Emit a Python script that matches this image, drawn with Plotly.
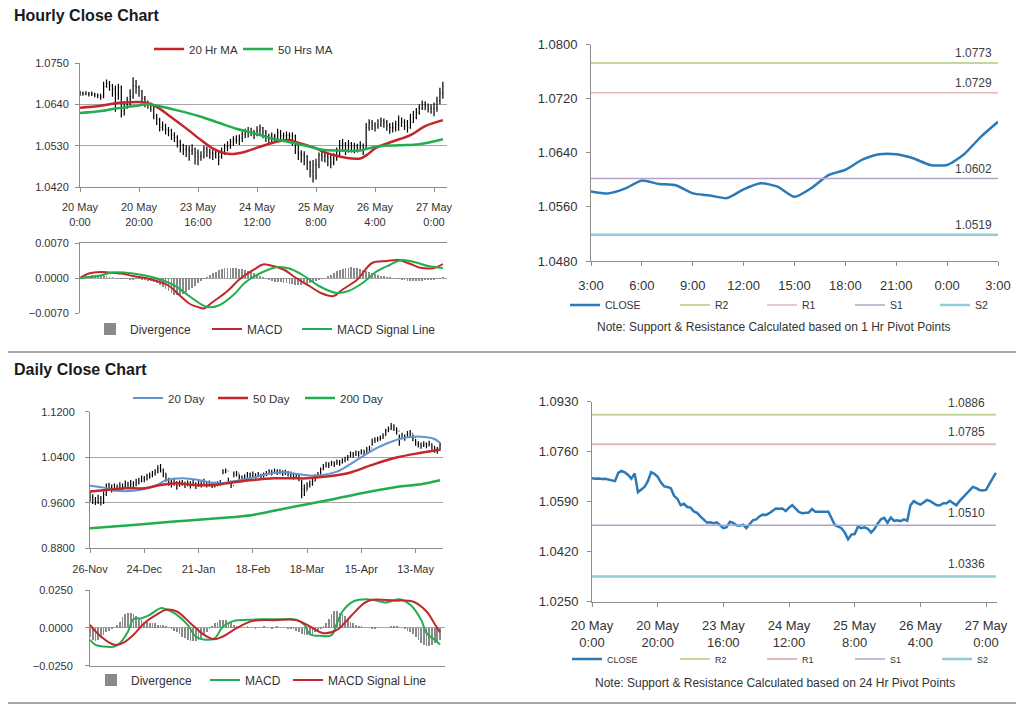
import plotly.graph_objects as go

# The page body keeps its default 8px margin, so the figure is sized to fill the
# remaining 1016x698 and all pixel positions below are given in window coordinates.
PAGE_MARGIN = 8
W, H = 1024 - PAGE_MARGIN, 706 - PAGE_MARGIN
FONT = "Liberation Sans, Arial, Helvetica, sans-serif"
TXT = "#333333"
AXC = "#8c8c8c"
GRID = "#a6a6a6"
RED = "#c3272b"
GREEN = "#22ad4f"
BLUE20 = "#6492cf"
CLOSE_C = "#2a7ab9"
DIV_C = "#8a8a8a"
R2_C, R1_C, S1_C, S2_C = "#c4d79b", "#e6b9b8", "#b3a2c7", "#93cddd"

# ---------------- Hourly data (20 May 0:00 -> 27 May 3:00) ----------------
hourly_close = [
    1.0670, 1.0668, 1.0669, 1.0667, 1.0668, 1.0665, 1.0663, 1.0660, 1.0688, 1.0695,
    1.0690, 1.0681, 1.0668, 1.0686, 1.0622, 1.0630, 1.0640, 1.0660, 1.0690, 1.0685,
    1.0675, 1.0655, 1.0642, 1.0640, 1.0636, 1.0610, 1.0600, 1.0578, 1.0583, 1.0572,
    1.0570, 1.0557, 1.0552, 1.0540, 1.0530, 1.0519, 1.0520, 1.0517, 1.0520, 1.0510,
    1.0500, 1.0503, 1.0522, 1.0518, 1.0510, 1.0508, 1.0512, 1.0500, 1.0512, 1.0527,
    1.0530, 1.0540, 1.0546, 1.0545, 1.0551, 1.0560, 1.0567, 1.0566, 1.0567, 1.0558,
    1.0570, 1.0578, 1.0566, 1.0555, 1.0551, 1.0553, 1.0553, 1.0565, 1.0556, 1.0556,
    1.0557, 1.0556, 1.0556, 1.0530, 1.0510, 1.0505, 1.0500, 1.0485, 1.0462, 1.0478,
    1.0480, 1.0505, 1.0500, 1.0503, 1.0498, 1.0485, 1.0497, 1.0515, 1.0530, 1.0535,
    1.0518, 1.0536, 1.0525, 1.0527, 1.0524, 1.0530, 1.0525, 1.0578, 1.0592, 1.0585,
    1.0580, 1.0587, 1.0596, 1.0592, 1.0584, 1.0578, 1.0578, 1.0585, 1.0585, 1.0593,
    1.0585, 1.0578, 1.0593, 1.0605, 1.0618, 1.0630, 1.0640, 1.0636, 1.0630, 1.0628,
    1.0630, 1.0650, 1.0670, 1.0688]
hourly_high = [
    1.0676, 1.0674, 1.0675, 1.0673, 1.0674, 1.0671, 1.0669, 1.0668, 1.0700, 1.0706,
    1.0702, 1.0694, 1.0690, 1.0695, 1.0690, 1.0648, 1.0660, 1.0680, 1.0712, 1.0705,
    1.0690, 1.0678, 1.0662, 1.0650, 1.0645, 1.0640, 1.0615, 1.0604, 1.0594, 1.0588,
    1.0580, 1.0575, 1.0566, 1.0558, 1.0546, 1.0535, 1.0532, 1.0530, 1.0534, 1.0525,
    1.0520, 1.0515, 1.0530, 1.0528, 1.0522, 1.0520, 1.0520, 1.0515, 1.0525, 1.0535,
    1.0542, 1.0548, 1.0555, 1.0558, 1.0560, 1.0568, 1.0575, 1.0580, 1.0578, 1.0572,
    1.0582, 1.0586, 1.0580, 1.0572, 1.0562, 1.0565, 1.0562, 1.0575, 1.0572, 1.0565,
    1.0568, 1.0565, 1.0566, 1.0560, 1.0535, 1.0518, 1.0515, 1.0505, 1.0490, 1.0492,
    1.0495, 1.0512, 1.0518, 1.0520, 1.0510, 1.0508, 1.0510, 1.0525, 1.0545, 1.0548,
    1.0540, 1.0545, 1.0540, 1.0538, 1.0535, 1.0542, 1.0536, 1.0590, 1.0600, 1.0598,
    1.0592, 1.0600, 1.0605, 1.0602, 1.0598, 1.0590, 1.0592, 1.0596, 1.0610, 1.0605,
    1.0600, 1.0598, 1.0615, 1.0622, 1.0630, 1.0640, 1.0650, 1.0648, 1.0642, 1.0640,
    1.0645, 1.0660, 1.0684, 1.0700]
hourly_low = [
    1.0662, 1.0663, 1.0664, 1.0661, 1.0662, 1.0659, 1.0656, 1.0652, 1.0656, 1.0684,
    1.0676, 1.0660, 1.0620, 1.0652, 1.0605, 1.0610, 1.0628, 1.0636, 1.0655, 1.0668,
    1.0660, 1.0645, 1.0632, 1.0628, 1.0620, 1.0600, 1.0585, 1.0568, 1.0570, 1.0560,
    1.0555, 1.0545, 1.0540, 1.0525, 1.0512, 1.0505, 1.0500, 1.0490, 1.0505, 1.0480,
    1.0478, 1.0490, 1.0496, 1.0500, 1.0495, 1.0492, 1.0496, 1.0478, 1.0495, 1.0505,
    1.0515, 1.0522, 1.0530, 1.0535, 1.0532, 1.0540, 1.0550, 1.0552, 1.0555, 1.0548,
    1.0555, 1.0560, 1.0550, 1.0540, 1.0535, 1.0540, 1.0538, 1.0545, 1.0540, 1.0540,
    1.0545, 1.0538, 1.0530, 1.0508, 1.0492, 1.0485, 1.0478, 1.0465, 1.0445, 1.0432,
    1.0440, 1.0470, 1.0488, 1.0485, 1.0475, 1.0470, 1.0478, 1.0490, 1.0500, 1.0515,
    1.0505, 1.0512, 1.0512, 1.0510, 1.0512, 1.0515, 1.0505, 1.0520, 1.0570, 1.0572,
    1.0568, 1.0575, 1.0580, 1.0578, 1.0570, 1.0562, 1.0565, 1.0568, 1.0570, 1.0580,
    1.0572, 1.0565, 1.0575, 1.0590, 1.0600, 1.0612, 1.0625, 1.0624, 1.0618, 1.0615,
    1.0608, 1.0620, 1.0640, 1.0655]
hourly_tick_pos = [0, 20, 40, 60, 80, 100, 120]
hourly_tick_text = ["20 May<br>0:00", "20 May<br>20:00", "23 May<br>16:00", "24 May<br>12:00",
                    "25 May<br>8:00", "26 May<br>4:00", "27 May<br>0:00"]

ma20h_idx = [0, 7, 12, 16, 20, 23, 26, 30, 36, 41, 45, 49, 52, 56, 61, 67, 71, 74, 79, 83,
             88, 92, 95, 98, 100, 106, 112, 117, 123]
ma20h = [1.0631, 1.0636, 1.0643, 1.0645, 1.0646, 1.0643, 1.0633, 1.0611, 1.0576, 1.0545,
         1.0523, 1.0510, 1.0508, 1.0514, 1.0527, 1.0541, 1.0545, 1.0538, 1.0526, 1.0512,
         1.0501, 1.0496, 1.0496, 1.0510, 1.0523, 1.0541, 1.0558, 1.0582, 1.0598]
ma50h_idx = [0, 7, 12, 18, 23, 27, 33, 41, 47, 53, 59, 65, 72, 78, 82, 88, 95, 100, 108, 115, 123]
ma50h = [1.0617, 1.0622, 1.0629, 1.0635, 1.0640, 1.0635, 1.0624, 1.0607, 1.0591, 1.0575,
         1.0563, 1.0549, 1.0538, 1.0527, 1.0519, 1.0517, 1.0517, 1.0527, 1.0531, 1.0534, 1.0547]

macd_h_idx = [0, 3, 7, 10, 14, 18, 23, 27, 30, 34, 37, 41, 42, 45, 50, 54, 59, 62, 64, 69,
              73, 78, 82, 86, 89, 94, 99, 104, 108, 112, 115, 120, 123]
macd_h = [0.0000, 0.0009, 0.0012, 0.0011, 0.0009, 0.0004, -0.0001, -0.0008, -0.0015, -0.0036,
          -0.0051, -0.0060, -0.0061, -0.0048, -0.0026, -0.0003, 0.0017, 0.0027, 0.0026, 0.0017,
          0.0001, -0.0017, -0.0031, -0.0036, -0.0023, -0.0003, 0.0030, 0.0034, 0.0036, 0.0028,
          0.0021, 0.0020, 0.0028]
signal_h_idx = [0, 7, 11, 18, 25, 32, 37, 43, 47, 52, 56, 62, 67, 71, 76, 81, 87, 91, 96, 100,
                105, 109, 114, 118, 123]
signal_h = [0.0000, 0.0005, 0.0011, 0.0009, 0.0001, -0.0015, -0.0036, -0.0058, -0.0055, -0.0034,
            -0.0009, 0.0012, 0.0022, 0.0019, 0.0004, -0.0016, -0.0030, -0.0026, -0.0009, 0.0011,
            0.0026, 0.0036, 0.0031, 0.0024, 0.0020]
hourly_div = [
    0.0001, 0.0003, 0.0004, 0.0005, 0.0006, 0.0006, 0.0005, 0.0005, 0.0004, 0.0003,
    0.0002, 0.0001, 0.0000, -0.0001, -0.0001, -0.0002, -0.0002, -0.0003, -0.0003, -0.0002,
    -0.0002, -0.0003, -0.0004, -0.0005, -0.0006, -0.0008, -0.0010, -0.0014, -0.0018, -0.0022,
    -0.0026, -0.0030, -0.0033, -0.0034, -0.0033, -0.0031, -0.0028, -0.0024, -0.0020, -0.0015,
    -0.0010, -0.0006, -0.0002, 0.0002, 0.0006, 0.0010, 0.0013, 0.0016, 0.0018, 0.0020,
    0.0021, 0.0021, 0.0020, 0.0020, 0.0019, 0.0018, 0.0016, 0.0014, 0.0012, 0.0010,
    0.0007, 0.0004, 0.0001, -0.0002, -0.0004, -0.0006, -0.0007, -0.0008, -0.0008, -0.0009,
    -0.0010, -0.0011, -0.0012, -0.0013, -0.0013, -0.0013, -0.0012, -0.0011, -0.0010, -0.0008,
    -0.0006, -0.0004, -0.0002, 0.0000, 0.0003, 0.0006, 0.0010, 0.0014, 0.0017, 0.0019,
    0.0021, 0.0021, 0.0022, 0.0021, 0.0020, 0.0018, 0.0016, 0.0014, 0.0012, 0.0010,
    0.0008, 0.0006, 0.0004, 0.0003, 0.0002, 0.0001, 0.0000, -0.0001, -0.0002, -0.0003,
    -0.0004, -0.0005, -0.0006, -0.0006, -0.0006, -0.0005, -0.0005, -0.0004, -0.0004, -0.0003,
    -0.0003, -0.0002, -0.0001, 0.0001]

# ---------------- 1 Hr pivot chart (26 May 3:00 -> 27 May 3:00) ----------------
pivot1h_hours = ["3:00", "4:00", "5:00", "6:00", "7:00", "8:00", "9:00", "10:00", "11:00",
                 "12:00", "13:00", "14:00", "15:00", "16:00", "17:00", "18:00", "19:00",
                 "20:00", "21:00", "22:00", "23:00", "0:00", "1:00", "2:00", "3:00"]
pivot1h_close = [1.0583, 1.0580, 1.0587, 1.0599, 1.0594, 1.0592, 1.0580, 1.0577, 1.0573,
                 1.0586, 1.0595, 1.0590, 1.0575, 1.0588, 1.0607, 1.0615, 1.0630, 1.0638,
                 1.0638, 1.0632, 1.0622, 1.0622, 1.0638, 1.0664, 1.0686]
pivot1h_levels = {"R2": 1.0773, "R1": 1.0729, "S1": 1.0602, "S2": 1.0519}

# ---------------- 24 Hr pivot levels ----------------
pivot24h_levels = {"R2": 1.0886, "R1": 1.0785, "S1": 1.0510, "S2": 1.0336}

# ---------------- Daily data (26-Nov -> 27-May) ----------------
daily_close = [
    0.970, 0.965, 0.962, 0.968, 0.960, 0.975, 0.990, 0.987, 0.984, 0.988,
    0.985, 0.990, 0.988, 0.993, 0.990, 0.994, 0.991, 0.996, 0.999, 1.003,
    1.001, 1.006, 1.008, 1.011, 1.014, 1.020, 1.018, 1.012, 1.002, 0.996,
    0.993, 0.997, 0.990, 0.994, 0.995, 0.991, 0.994, 0.992, 0.995, 0.990,
    0.994, 0.993, 0.997, 0.992, 0.994, 0.990, 0.992, 0.993, 0.995, 1.014,
    1.016, 0.998, 0.990, 1.010, 1.012, 1.006, 1.003, 1.005, 1.010, 1.008,
    1.011, 1.007, 1.010, 1.006, 1.009, 1.012, 1.015, 1.013, 1.016, 1.014,
    1.015, 1.012, 1.014, 1.011, 1.010, 1.006, 1.008, 1.004, 0.985, 0.980,
    0.990, 0.993, 0.998, 1.006, 1.010, 1.018, 1.024, 1.028, 1.026, 1.030,
    1.028, 1.032, 1.030, 1.034, 1.036, 1.040, 1.046, 1.044, 1.048, 1.046,
    1.050, 1.048, 1.053, 1.056, 1.068, 1.070, 1.072, 1.074, 1.078, 1.086,
    1.090, 1.094, 1.092, 1.086, 1.072, 1.078, 1.075, 1.080, 1.082, 1.074,
    1.065, 1.062, 1.060, 1.063, 1.061, 1.064, 1.058, 1.055, 1.052, 1.062]
daily_high = [
    0.980, 0.975, 0.970, 0.974, 0.972, 0.980, 0.994, 0.995, 0.992, 0.994,
    0.992, 0.996, 0.994, 0.999, 0.997, 1.000, 0.998, 1.002, 1.004, 1.008,
    1.007, 1.011, 1.013, 1.016, 1.019, 1.026, 1.028, 1.020, 1.012, 1.004,
    1.000, 1.002, 0.998, 0.999, 1.000, 0.997, 0.999, 0.998, 1.000, 0.996,
    0.999, 0.998, 1.002, 0.998, 0.999, 0.996, 0.997, 0.998, 1.000, 1.019,
    1.020, 1.004, 0.996, 1.015, 1.016, 1.010, 1.008, 1.010, 1.014, 1.013,
    1.015, 1.012, 1.014, 1.011, 1.013, 1.016, 1.019, 1.018, 1.020, 1.019,
    1.019, 1.017, 1.018, 1.016, 1.015, 1.011, 1.012, 1.010, 1.000, 0.992,
    0.996, 0.999, 1.003, 1.010, 1.014, 1.022, 1.028, 1.032, 1.031, 1.034,
    1.033, 1.036, 1.035, 1.038, 1.041, 1.044, 1.050, 1.049, 1.052, 1.051,
    1.054, 1.053, 1.058, 1.060, 1.073, 1.075, 1.076, 1.078, 1.082, 1.090,
    1.094, 1.100, 1.098, 1.092, 1.080, 1.083, 1.080, 1.086, 1.088, 1.080,
    1.072, 1.068, 1.066, 1.068, 1.066, 1.069, 1.064, 1.060, 1.058, 1.066]
daily_low = [
    0.962, 0.958, 0.956, 0.958, 0.955, 0.958, 0.972, 0.982, 0.978, 0.980,
    0.980, 0.983, 0.982, 0.986, 0.985, 0.987, 0.986, 0.989, 0.992, 0.996,
    0.996, 0.999, 1.002, 1.005, 1.008, 1.012, 1.013, 1.005, 0.997, 0.990,
    0.987, 0.990, 0.983, 0.988, 0.990, 0.986, 0.989, 0.985, 0.990, 0.984,
    0.988, 0.987, 0.991, 0.987, 0.989, 0.986, 0.987, 0.989, 0.990, 1.010,
    1.012, 0.993, 0.986, 1.005, 1.006, 1.001, 0.998, 1.000, 1.004, 1.003,
    1.005, 1.002, 1.005, 1.001, 1.004, 1.007, 1.010, 1.008, 1.011, 1.009,
    1.010, 1.007, 1.009, 1.006, 1.005, 1.001, 1.003, 0.998, 0.968, 0.972,
    0.982, 0.987, 0.990, 0.998, 1.004, 1.010, 1.017, 1.022, 1.021, 1.025,
    1.023, 1.027, 1.025, 1.029, 1.031, 1.034, 1.040, 1.039, 1.042, 1.041,
    1.045, 1.043, 1.047, 1.050, 1.060, 1.065, 1.067, 1.069, 1.072, 1.078,
    1.084, 1.088, 1.086, 1.080, 1.060, 1.072, 1.069, 1.074, 1.076, 1.068,
    1.060, 1.057, 1.055, 1.058, 1.056, 1.059, 1.053, 1.048, 1.046, 1.052]
daily_tick_pos = [0, 20, 40, 60, 80, 100, 120]
daily_tick_text = ["26-Nov", "24-Dec", "21-Jan", "18-Feb", "18-Mar", "15-Apr", "13-May"]

ma20d_idx = [0, 5, 10, 16, 20, 25, 28, 34, 40, 44, 48, 53, 59, 65, 71, 77, 81, 86, 91, 96,
             101, 106, 111, 114, 119, 124, 127, 129]
ma20d = [0.990, 0.9866, 0.981, 0.981, 0.984, 0.992, 0.9995, 1.003, 1.000, 0.996,
         0.994, 0.998, 1.003, 1.010, 1.0135, 1.010, 1.0077, 1.009, 1.0147, 1.028,
         1.043, 1.057, 1.067, 1.072, 1.076, 1.0752, 1.072, 1.065]
ma50d_idx = [0, 6, 13, 20, 26, 32, 38, 46, 53, 60, 68, 75, 80, 87, 95, 104, 113, 121, 129]
ma50d = [0.9796, 0.9825, 0.9855, 0.9855, 0.9913, 0.9942, 0.9913, 0.9913, 0.996, 1.000,
         1.003, 1.003, 1.003, 1.006, 1.012, 1.0266, 1.0394, 1.047, 1.053]
ma200d_idx = [0, 16, 31, 47, 60, 71, 80, 90, 102, 114, 122, 129]
ma200d = [0.9153, 0.9211, 0.927, 0.9328, 0.9387, 0.9492, 0.9574, 0.9667, 0.9784, 0.9884,
          0.9925, 0.9995]

macd_d_idx = [0, 2, 5, 9, 11, 14, 16, 19, 22, 26, 28, 32, 36, 39, 43, 46, 49, 53, 58, 63,
              70, 76, 79, 81, 85, 89, 91, 93, 97, 102, 107, 109, 114, 118, 122, 124, 127, 129]
macd_d = [-0.0079, -0.0112, -0.0123, -0.0123, -0.0101, -0.0024, 0.0057, 0.0064, 0.0086, 0.0130,
          0.0123, 0.0086, 0.0020, -0.0057, -0.0079, -0.0068, 0.0009, 0.0046, 0.0053, 0.0057,
          0.0057, 0.0053, 0.0020, -0.0042, -0.0053, -0.0048, 0.0031, 0.0108, 0.0174, 0.0189,
          0.0174, 0.0167, 0.0189, 0.0152, 0.0053, -0.0035, -0.0079, -0.0110]
signal_d_idx = [0, 4, 9, 12, 16, 20, 25, 28, 32, 37, 42, 46, 49, 54, 60, 68, 76, 81, 86, 91,
                96, 101, 104, 112, 119, 124, 127, 129]
signal_d = [0.0020, -0.0057, -0.0112, -0.0101, -0.0046, 0.0031, 0.0092, 0.0119, 0.0108, 0.0031,
            -0.0046, -0.0075, -0.0057, -0.0002, 0.0046, 0.0051, 0.0051, 0.0009, -0.0035, -0.0013,
            0.0075, 0.0163, 0.0185, 0.0180, 0.0174, 0.0108, 0.0025, -0.0030]
daily_div = [
    -0.006, -0.008, -0.009, -0.008, -0.007, -0.005, -0.003, -0.002, -0.001, 0.000,
    0.002, 0.004, 0.007, 0.009, 0.010, 0.010, 0.009, 0.008, 0.006, 0.005,
    0.004, 0.004, 0.003, 0.003, 0.003, 0.002, 0.002, 0.002, 0.001, 0.000,
    -0.001, -0.002, -0.003, -0.004, -0.006, -0.007, -0.008, -0.009, -0.009, -0.009,
    -0.008, -0.007, -0.005, -0.003, -0.001, 0.001, 0.003, 0.004, 0.005, 0.005,
    0.005, 0.004, 0.003, 0.002, 0.001, 0.001, 0.000, 0.000, 0.001, 0.000,
    0.000, -0.001, 0.000, 0.000, 0.001, 0.000, 0.000, -0.001, 0.000, 0.001,
    0.000, 0.000, 0.000, -0.001, -0.001, -0.001, -0.002, -0.003, -0.004, -0.005,
    -0.005, -0.005, -0.004, -0.003, -0.002, -0.001, 0.001, 0.003, 0.006, 0.009,
    0.011, 0.011, 0.010, 0.009, 0.008, 0.006, 0.004, 0.003, 0.002, 0.001,
    0.001, 0.000, 0.000, 0.000, -0.001, -0.001, 0.000, 0.000, 0.000, 0.000,
    0.000, 0.001, 0.001, 0.001, 0.000, 0.000, -0.001, -0.002, -0.003, -0.004,
    -0.006, -0.008, -0.010, -0.011, -0.012, -0.012, -0.011, -0.010, -0.009, -0.008]

# ---------------- helpers ----------------
hourly_idx = list(range(len(hourly_close)))
daily_idx = list(range(len(daily_close)))
pivot1h_idx = list(range(len(pivot1h_close)))
hourly_open = [hourly_close[0]] + hourly_close[:-1]
daily_open = [daily_close[0]] + daily_close[:-1]


def px_x(p):
    return (p - PAGE_MARGIN) / W


def px_y(p):
    return 1 - (p - PAGE_MARGIN) / H


legends = {}


def new_legend(x_left, y_mid, size):
    """One legend box per entry, placed at the pixel position of its key."""
    name = "legend" if not legends else f"legend{len(legends) + 1}"
    legends[name] = dict(orientation="h", x=px_x(x_left), y=px_y(y_mid), xanchor="left",
                         yanchor="middle", font=dict(family=FONT, size=size, color=TXT),
                         bgcolor="rgba(0,0,0,0)", itemwidth=30, itemclick=False,
                         itemdoubleclick=False)
    return name


fig = go.Figure()

# Hourly price
fig.add_trace(go.Ohlc(x=hourly_idx, open=hourly_open, high=hourly_high, low=hourly_low,
                      close=hourly_close, increasing_line_color="black",
                      decreasing_line_color="black", line_width=1.2, tickwidth=0.25,
                      showlegend=False, hoverinfo="skip", xaxis="x", yaxis="y"))
fig.add_trace(go.Scatter(x=ma20h_idx, y=ma20h, mode="lines", name="20 Hr MA",
                         line=dict(color=RED, width=2.5, shape="spline"),
                         xaxis="x", yaxis="y", legend=new_legend(149, 49, 11.5)))
fig.add_trace(go.Scatter(x=ma50h_idx, y=ma50h, mode="lines", name="50 Hrs MA",
                         line=dict(color=GREEN, width=2.5, shape="spline"),
                         xaxis="x", yaxis="y", legend=new_legend(238, 49, 11.5)))

# Hourly MACD
fig.add_trace(go.Bar(x=hourly_idx, y=hourly_div, name="Divergence", width=0.3,
                     marker=dict(color=DIV_C, line_width=0),
                     xaxis="x2", yaxis="y2", legend=new_legend(90, 329, 12)))
fig.add_trace(go.Scatter(x=macd_h_idx, y=macd_h, mode="lines", name="MACD",
                         line=dict(color=RED, width=2, shape="spline"),
                         xaxis="x2", yaxis="y2", legend=new_legend(207, 329, 12)))
fig.add_trace(go.Scatter(x=signal_h_idx, y=signal_h, mode="lines", name="MACD Signal Line",
                         line=dict(color=GREEN, width=2, shape="spline"),
                         xaxis="x2", yaxis="y2", legend=new_legend(297, 329, 12)))

# 1 Hr pivot chart
fig.add_trace(go.Scatter(x=pivot1h_idx, y=pivot1h_close, mode="lines", name="CLOSE",
                         line=dict(color=CLOSE_C, width=2.5, shape="spline", smoothing=0.6),
                         xaxis="x3", yaxis="y3", legend=new_legend(565, 305, 10.5)))
for key, col, wd, lx in [("R2", R2_C, 2, 675), ("R1", R1_C, 1.5, 762), ("S1", S1_C, 1.5, 850),
                         ("S2", S2_C, 2.5, 935)]:
    lvl = pivot1h_levels[key]
    fig.add_trace(go.Scatter(x=[pivot1h_idx[0], pivot1h_idx[-1]], y=[lvl, lvl], mode="lines",
                             name=key, line=dict(color=col, width=wd), xaxis="x3", yaxis="y3",
                             legend=new_legend(lx, 305, 10.5)))

# Daily price
fig.add_trace(go.Ohlc(x=daily_idx, open=daily_open, high=daily_high, low=daily_low,
                      close=daily_close, increasing_line_color="black",
                      decreasing_line_color="black", line_width=1.2, tickwidth=0.25,
                      showlegend=False, hoverinfo="skip", xaxis="x4", yaxis="y4"))
fig.add_trace(go.Scatter(x=ma20d_idx, y=ma20d, mode="lines", name="20 Day",
                         line=dict(color=BLUE20, width=2, shape="spline"),
                         xaxis="x4", yaxis="y4", legend=new_legend(128, 398, 11.5)))
fig.add_trace(go.Scatter(x=ma50d_idx, y=ma50d, mode="lines", name="50 Day",
                         line=dict(color=RED, width=2.5, shape="spline"),
                         xaxis="x4", yaxis="y4", legend=new_legend(213, 398, 11.5)))
fig.add_trace(go.Scatter(x=ma200d_idx, y=ma200d, mode="lines", name="200 Day",
                         line=dict(color=GREEN, width=2.5, shape="spline"),
                         xaxis="x4", yaxis="y4", legend=new_legend(300, 398, 11.5)))

# Daily MACD
fig.add_trace(go.Bar(x=daily_idx, y=daily_div, name="Divergence", width=0.3,
                     marker=dict(color=DIV_C, line_width=0),
                     xaxis="x5", yaxis="y5", legend=new_legend(91, 680, 12)))
fig.add_trace(go.Scatter(x=macd_d_idx, y=macd_d, mode="lines", name="MACD",
                         line=dict(color=GREEN, width=2, shape="spline"),
                         xaxis="x5", yaxis="y5", legend=new_legend(205, 680, 12)))
fig.add_trace(go.Scatter(x=signal_d_idx, y=signal_d, mode="lines", name="MACD Signal Line",
                         line=dict(color=RED, width=2, shape="spline"),
                         xaxis="x5", yaxis="y5", legend=new_legend(288, 680, 12)))

# 24 Hr pivot chart (hourly closes)
fig.add_trace(go.Scatter(x=hourly_idx, y=hourly_close, mode="lines", name="CLOSE",
                         line=dict(color=CLOSE_C, width=2.5),
                         xaxis="x6", yaxis="y6", legend=new_legend(567, 659, 9)))
for key, col, wd, lx in [("R2", R2_C, 2, 675), ("R1", R1_C, 2, 762), ("S1", S1_C, 1.5, 850),
                         ("S2", S2_C, 2.5, 937)]:
    lvl = pivot24h_levels[key]
    fig.add_trace(go.Scatter(x=[hourly_idx[0], hourly_idx[-1]], y=[lvl, lvl], mode="lines",
                             name=key, line=dict(color=col, width=wd), xaxis="x6", yaxis="y6",
                             legend=new_legend(lx, 659, 9)))


# ---------------- layout ----------------
def ax(**kw):
    base = dict(linecolor=AXC, linewidth=1, tickcolor=AXC, ticklen=4, ticks="outside",
                tickfont=dict(family=FONT, size=11, color=TXT), showgrid=False,
                zeroline=False, showline=True, fixedrange=True)
    base.update(kw)
    return base


BIG = dict(family=FONT, size=13, color=TXT)

layout = dict(
    width=W, height=H, margin=dict(l=0, r=0, t=0, b=0, autoexpand=False),
    paper_bgcolor="white", plot_bgcolor="white", showlegend=True, bargap=0,
    font=dict(family=FONT, color=TXT),
    # hourly price
    xaxis=ax(domain=[px_x(80), px_x(447)], range=[0, 124.4], tickvals=hourly_tick_pos,
             ticktext=hourly_tick_text, anchor="y", rangeslider=dict(visible=False),
             ticklabelstandoff=6),
    yaxis=ax(domain=[px_y(187), px_y(63)], range=[1.042, 1.075],
             tickvals=[1.042, 1.053, 1.064, 1.075], tickformat=".4f", showgrid=True,
             gridcolor=GRID, anchor="x", ticklabelstandoff=4),
    # hourly MACD
    xaxis2=ax(domain=[px_x(80), px_x(447)], range=[0, 124.4], side="top", ticks="",
              showticklabels=False, anchor="y2"),
    yaxis2=ax(domain=[px_y(313), px_y(243)], range=[-0.007, 0.007],
              tickvals=[-0.007, 0, 0.007], tickformat=".4f", zeroline=True,
              zerolinecolor=GRID, zerolinewidth=1, anchor="x2", ticklabelstandoff=4),
    # 1 Hr pivot
    xaxis3=ax(domain=[px_x(591), px_x(998)], range=[0, 24], tickvals=pivot1h_idx[::3],
              ticktext=pivot1h_hours[::3], anchor="y3", ticklabelstandoff=8, tickfont=BIG),
    yaxis3=ax(domain=[px_y(261), px_y(44.7)], range=[1.048, 1.080],
              tickvals=[1.048, 1.056, 1.064, 1.072, 1.080], tickformat=".4f", anchor="x3",
              ticklabelstandoff=6, tickfont=BIG),
    # daily price
    xaxis4=ax(domain=[px_x(90), px_x(443)], range=[0, 130.1], tickvals=daily_tick_pos,
              ticktext=daily_tick_text, anchor="y4", rangeslider=dict(visible=False),
              ticklabelstandoff=6),
    yaxis4=ax(domain=[px_y(548.3), px_y(411.7)], range=[0.88, 1.12],
              tickvals=[0.88, 0.96, 1.04, 1.12], tickformat=".4f", showgrid=True,
              gridcolor=GRID, anchor="x4", ticklabelstandoff=8),
    # daily MACD
    xaxis5=ax(domain=[px_x(90), px_x(445)], range=[0, 130.8], ticks="",
              showticklabels=False, anchor="y5"),
    yaxis5=ax(domain=[px_y(665.7), px_y(590)], range=[-0.025, 0.025],
              tickvals=[-0.025, 0, 0.025], tickformat=".4f", showgrid=True, gridcolor=GRID,
              anchor="x5", ticklabelstandoff=10),
    # 24 Hr pivot
    xaxis6=ax(domain=[px_x(592), px_x(997)], range=[0, 123.35], tickvals=hourly_tick_pos,
              ticktext=hourly_tick_text, anchor="y6", ticklabelstandoff=8, tickfont=BIG),
    yaxis6=ax(domain=[px_y(601.7), px_y(401.7)], range=[1.025, 1.093],
              tickvals=[1.025, 1.042, 1.059, 1.076, 1.093], tickformat=".4f", anchor="x6",
              ticklabelstandoff=6, tickfont=BIG),
)
layout.update(legends)

annotations = [
    dict(text="<b>Hourly Close Chart</b>", x=px_x(12), y=px_y(16), xref="paper", yref="paper",
         xanchor="left", yanchor="middle", showarrow=False,
         font=dict(family=FONT, size=16, color="#1a1a1a")),
    dict(text="<b>Daily Close Chart</b>", x=px_x(12), y=px_y(369), xref="paper", yref="paper",
         xanchor="left", yanchor="middle", showarrow=False,
         font=dict(family=FONT, size=16, color="#1a1a1a")),
    dict(text="Note: Support & Resistance Calculated based on 1 Hr Pivot Points",
         x=px_x(774), y=px_y(327), xref="paper", yref="paper", xanchor="center",
         yanchor="middle", showarrow=False, font=dict(family=FONT, size=12, color=TXT)),
    dict(text="Note: Support & Resistance Calculated based on 24 Hr Pivot Points",
         x=px_x(775), y=px_y(683), xref="paper", yref="paper", xanchor="center",
         yanchor="middle", showarrow=False, font=dict(family=FONT, size=12, color=TXT)),
]
for key in ["R2", "R1", "S1", "S2"]:
    annotations.append(dict(text=f"{pivot1h_levels[key]:.4f}", x=pivot1h_idx[-1],
                            y=pivot1h_levels[key], xref="x3", yref="y3", xanchor="right",
                            yanchor="bottom", xshift=-4, yshift=1, showarrow=False,
                            font=dict(family=FONT, size=12, color="#404040")))
    annotations.append(dict(text=f"{pivot24h_levels[key]:.4f}", x=hourly_idx[-1],
                            y=pivot24h_levels[key], xref="x6", yref="y6", xanchor="right",
                            yanchor="bottom", xshift=-9, yshift=3, showarrow=False,
                            font=dict(family=FONT, size=12, color="#404040")))
layout["annotations"] = annotations
layout["shapes"] = [
    dict(type="line", xref="paper", yref="paper", x0=0, x1=1, y0=px_y(352), y1=px_y(352),
         line=dict(color="#8a8a8a", width=1.5)),
    dict(type="line", xref="paper", yref="paper", x0=0, x1=1, y0=px_y(703), y1=px_y(703),
         line=dict(color="#8a8a8a", width=1.5)),
]

fig.update_layout(**layout)
fig.write_html("out.html")
